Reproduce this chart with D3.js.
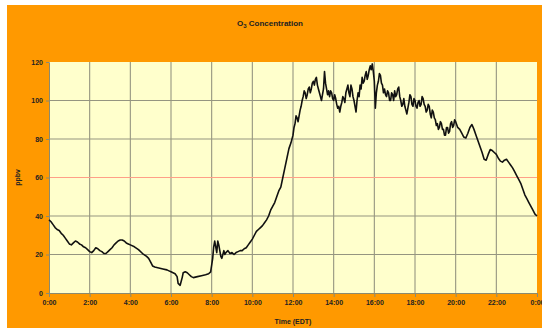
<!DOCTYPE html>
<html><head><meta charset="utf-8">
<script src="https://cdn.jsdelivr.net/npm/d3@7"></script>
<style>html,body{margin:0;padding:0;background:#fff;}svg{display:block;}</style>
</head><body>
<svg id="chart" width="542" height="328"></svg>
<script>
const titleMain = "O";
const titleSub = "3";
const titleRest = " Concentration";
const yTitle = "ppbv";
const xTitle = "Time (EDT)";
const xTickValues = [0,2,4,6,8,10,12,14,16,18,20,22,24];
const xTickLabels = ["0:00","2:00","4:00","6:00","8:00","10:00","12:00","14:00","16:00","18:00","20:00","22:00","0:00"];
const yTickValues = [0,20,40,60,80,100,120];
const redLineValue = 60;
// early morning to midday (hours, ppbv)
const hoursAM = [0.0,0.1,0.2,0.3,0.4,0.5,0.6,0.7,0.8,0.9,1.0,1.1,1.2,1.3,1.4,1.5,1.6,1.7,1.8,1.9,2.0,2.1,2.2,2.3,2.4,2.5,2.6,2.7,2.8,2.9,3.0,3.1,3.2,3.3,3.4,3.5,3.6,3.7,3.8,3.9,4.0,4.2,4.4,4.6,4.8,4.9,5.0,5.1,5.2,5.4,5.6,5.8,5.9,6.0,6.1,6.2,6.3,6.35,6.45,6.55,6.6,6.7,6.8,6.9,7.0,7.1,7.3,7.5,7.7,7.85,7.95,8.05,8.1,8.15,8.2,8.25,8.3,8.35,8.4,8.45,8.5,8.55,8.6,8.65,8.7,8.8,8.9,9.0,9.1,9.2,9.3,9.4,9.5,9.6,9.7,9.8,9.9,10.0,10.1,10.2,10.3,10.4,10.5,10.6,10.7,10.8,10.9,11.0,11.1,11.2,11.3,11.4,11.5,11.6,11.7,11.8,11.9];
const ozoneAM = [38,37,35.5,34,33,32.5,31,30,28.5,27,25.5,25,26,27,26.5,25.5,25,24,23.5,22.5,21.5,21,22,23.5,23,22,21.5,20.5,20.5,21.5,22.5,23.5,25,26,27,27.5,27.5,27,26,25.5,25,24,22.5,20.5,19,18,16,14,13.5,13,12.5,12,11.5,11,10.5,10,8.5,5,4,8,10.5,11,10.5,9.5,8.5,8,8.5,9,9.5,10,11,18,24,27,24,21,27,25,22,19,18,20,22,20,21,22,20.5,21,20,21,21.5,22,22,23,23.5,25,26.5,28,30,32,33,34,35,36.5,38,40,43,45,47,50,53,55,60,65,70,75,78];
// midday to evening
const hoursPM = [12.00,12.05,12.10,12.15,12.20,12.25,12.30,12.35,12.40,12.45,12.50,12.55,12.60,12.65,12.70,12.75,12.80,12.85,12.90,12.95,13.00,13.05,13.10,13.15,13.20,13.25,13.30,13.35,13.40,13.45,13.50,13.55,13.60,13.65,13.70,13.75,13.80,13.85,13.90,13.95,14.00,14.05,14.10,14.15,14.20,14.25,14.30,14.35,14.40,14.45,14.50,14.55,14.60,14.65,14.70,14.75,14.80,14.85,14.90,14.95,15.00,15.05,15.10,15.15,15.20,15.25,15.30,15.35,15.40,15.45,15.50,15.55,15.60,15.65,15.70,15.75,15.80,15.85,15.90,15.95,16.00,16.05,16.10,16.15,16.20,16.25,16.30,16.35,16.40,16.45,16.50,16.55,16.60,16.65,16.70,16.75,16.80,16.85,16.90,16.95,17.00,17.05,17.10,17.15,17.20,17.25,17.30,17.35,17.40,17.45,17.50,17.55,17.60,17.65,17.70,17.75,17.80,17.85,17.90,17.95,18.00,18.05,18.10,18.15,18.20,18.25,18.30,18.35,18.40,18.45,18.50,18.55,18.60,18.65,18.70,18.75,18.80,18.85,18.90,18.95,19.00,19.05,19.10,19.15,19.20,19.25,19.30,19.35,19.40,19.45,19.50,19.55,19.60,19.65,19.70,19.75,19.80,19.85,19.90,19.95,20.00];
const ozonePM = [82,86,88,92,91,89,92,95,97,100,102,105,104,101,103,106,107,104,106,109,110,108,111,112,108,106,104,102,100,103,106,115,109,106,103,105,102,105,104,101,100,103,101,98,96,97,94,97,99,102,101,99,104,106,108,104,102,108,106,102,100,97,94,100,104,102,108,106,112,109,110,113,115,111,113,116,118,116,119,115,110,96,104,108,110,114,113,109,108,104,106,103,102,105,104,100,100,104,103,100,105,102,103,106,107,102,100,97,98,101,97,95,93,96,99,103,102,98,97,101,100,97,96,99,100,97,98,102,101,98,97,94,95,98,97,93,91,95,94,91,90,87,88,85,86,89,88,85,85,82,82,86,86,83,84,88,89,86,87,90,89];
// evening to midnight
const hoursEve = [20.1,20.2,20.3,20.4,20.5,20.6,20.7,20.8,20.9,21.0,21.1,21.2,21.3,21.4,21.5,21.6,21.7,21.8,21.9,22.0,22.1,22.2,22.3,22.4,22.5,22.6,22.7,22.8,22.9,23.0,23.1,23.2,23.3,23.4,23.5,23.6,23.7,23.8,23.9,24.0];
const ozoneEve = [86,85,83,81,80.5,83,86,87.5,85,82,79,76,73,69.5,69,72,74.5,74,73,72,70,68.5,68,69,69.5,68,66.5,65,63,61,59,57,54,51,49,47,45,43,41,40];

const svg = d3.select("#chart");
const W = 542, H = 328;
const m = {left:49, right:5, top:62, bottom:35};
const iw = W - m.left - m.right, ih = H - m.top - m.bottom;

svg.append("rect").attr("width",W).attr("height",H).attr("fill","#ffffff");
svg.append("rect").attr("x",7).attr("y",5).attr("width",W-7).attr("height",H-5).attr("fill","#ff9900");

const x = d3.scaleLinear().domain([0,24]).range([m.left, m.left+iw]);
const y = d3.scaleLinear().domain([0,120]).range([m.top+ih, m.top]);

svg.append("rect").attr("x",m.left).attr("y",m.top).attr("width",iw).attr("height",ih).attr("fill","#ffffcc");

const g = svg.append("g");
g.selectAll("line.vg").data(xTickValues.slice(1,-1)).join("line")
  .attr("x1",d=>x(d)).attr("x2",d=>x(d)).attr("y1",m.top).attr("y2",m.top+ih)
  .attr("stroke","#959580").attr("stroke-width",1.1);
g.selectAll("line.hg").data(yTickValues.slice(1,-1)).join("line")
  .attr("x1",m.left).attr("x2",m.left+iw).attr("y1",d=>y(d)).attr("y2",d=>y(d))
  .attr("stroke",d=>d===redLineValue?"#ff9f88":"#959580").attr("stroke-width",1.1);

const xAxis = d3.axisBottom(x).tickValues(xTickValues).tickFormat((d,i)=>xTickLabels[i]).tickSize(4).tickPadding(3);
const yAxis = d3.axisLeft(y).tickValues(yTickValues).tickSize(3).tickPadding(3);
const gx = svg.append("g").attr("transform",`translate(0,${m.top+ih})`).call(xAxis);
const gy = svg.append("g").attr("transform",`translate(${m.left},0)`).call(yAxis);
[gx,gy].forEach(a=>{
  a.select(".domain").attr("stroke","#8a8a70");
  a.selectAll(".tick line").attr("stroke","#8a8a70");
  a.selectAll("text").attr("fill","#222").style("font-family","Liberation Sans, Arial, sans-serif")
   .style("font-size","7px").style("font-weight","bold");
});

const pts = [...hoursAM.map((h,i)=>[h, ozoneAM[i]]), ...hoursPM.map((h,i)=>[h, ozonePM[i]]), ...hoursEve.map((h,i)=>[h, ozoneEve[i]])];
svg.append("path").datum(pts)
  .attr("fill","none").attr("stroke","#111").attr("stroke-width",1.6).attr("stroke-linejoin","round")
  .attr("d", d3.line().x(d=>x(d[0])).y(d=>y(d[1])));

const t = svg.append("text").attr("x",270).attr("y",26).attr("text-anchor","middle")
  .style("font-family","Liberation Sans, Arial, sans-serif").style("font-size","8px").style("font-weight","bold").attr("fill","#222");
t.append("tspan").text(titleMain);
t.append("tspan").text(titleSub).attr("dy",2).style("font-size","6px");
t.append("tspan").text(titleRest).attr("dy",-2);

svg.append("text").attr("transform",`translate(20,${m.top+ih/2}) rotate(-90)`).attr("text-anchor","middle")
  .style("font-family","Liberation Sans, Arial, sans-serif").style("font-size","7px").style("font-weight","bold").attr("fill","#222").text(yTitle);
svg.append("text").attr("x",m.left+iw/2).attr("y",324).attr("text-anchor","middle")
  .style("font-family","Liberation Sans, Arial, sans-serif").style("font-size","7px").style("font-weight","bold").attr("fill","#222").text(xTitle);
</script>
</body></html>
